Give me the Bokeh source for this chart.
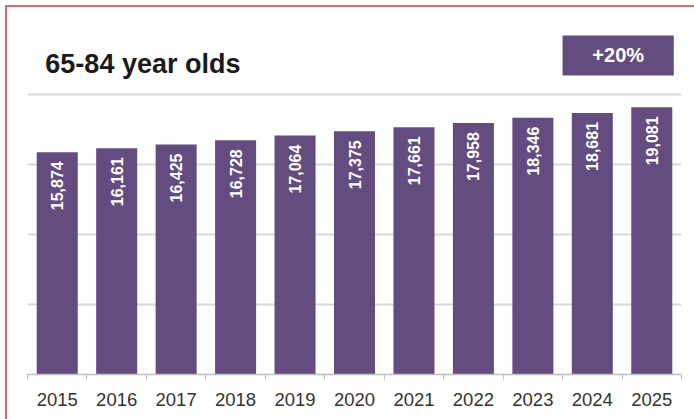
import numpy as np
from bokeh.plotting import figure
from bokeh.models import ColumnDataSource, FixedTicker, Range1d, Label, BoxAnnotation
from bokeh.core.properties import value
from bokeh.embed import file_html
from bokeh.resources import INLINE

# ---- data ----
years = ["2015", "2016", "2017", "2018", "2019", "2020", "2021", "2022", "2023", "2024", "2025"]
population = [15874, 16161, 16425, 16728, 17064, 17375, 17661, 17958, 18346, 18681, 19081]
title_text = "65-84 year olds"
y_ticks = [0, 5000, 10000, 15000, 20000, 25000]

BAR = "#644c80"
FONT = "Liberation Sans"

x = np.arange(len(years)) + 0.5
labels = [f"{v:,}" for v in population]
src = ColumnDataSource(dict(x=x, y=population, label=labels))

p = figure(width=694, height=419, output_backend="svg", toolbar_location=None,
           x_range=Range1d(0, len(years)), y_range=Range1d(0, y_ticks[-1]),
           min_border_left=27, min_border_right=13, min_border_top=24, min_border_bottom=45)
p.title.visible = False
p.outline_line_color = None
p.background_fill_color = "white"
p.border_fill_color = None
p.styles = {
    "background": "linear-gradient(#e06868,#e06868) 5px 5px / 2px 414px no-repeat, "
                  "linear-gradient(#e06868,#e06868) 5px 5px / 689px 2px no-repeat, white"
}

p.vbar(x="x", top="y", bottom=0, width=0.69, source=src, fill_color=BAR, line_color=None)
p.text(x="x", y="y", text="label", source=src, angle=np.pi / 2, text_align="right",
       text_baseline="middle", y_offset=9, text_color="white", text_font=value(FONT),
       text_font_style="bold", text_font_size="16px")

# axes
xa = p.xaxis[0]
xa.ticker = FixedTicker(ticks=list(x), minor_ticks=list(range(len(years) + 1)))
xa.major_label_overrides = {float(xi): yr for xi, yr in zip(x, years)}
xa.major_tick_line_color = None
xa.major_tick_out = 0
xa.major_tick_in = 0
xa.minor_tick_out = 5
xa.minor_tick_in = 0
xa.minor_tick_line_color = "#bfbfbf"
xa.axis_line_color = "#bfbfbf"
xa.axis_line_width = 1.5
xa.major_label_standoff = 13
xa.major_label_text_font = FONT
xa.major_label_text_font_size = "18.5px"
xa.major_label_text_color = "#333333"

p.yaxis.ticker = FixedTicker(ticks=y_ticks)
p.yaxis.visible = False
p.xgrid.visible = False
p.ygrid.grid_line_color = "#d9d9d9"
p.ygrid.grid_line_width = 2

# title and change badge
p.add_layout(Label(x=0.3, y=22200, text=title_text, text_baseline="middle",
                   text_font=FONT, text_font_style="bold", text_font_size="27px",
                   text_color="#1a1a1a"))
pct = round((population[-1] / population[0] - 1) * 100)
p.add_layout(BoxAnnotation(left=9.0, right=10.87, bottom=21357, top=24214,
                           fill_color=BAR, fill_alpha=1, line_color=None))
p.add_layout(Label(x=9.935, y=22786, text=f"+{pct}%", text_align="center",
                   text_baseline="middle", text_font=FONT, text_font_style="bold",
                   text_font_size="20px", text_color="white"))

open("out.html", "w").write(file_html(p, INLINE))
